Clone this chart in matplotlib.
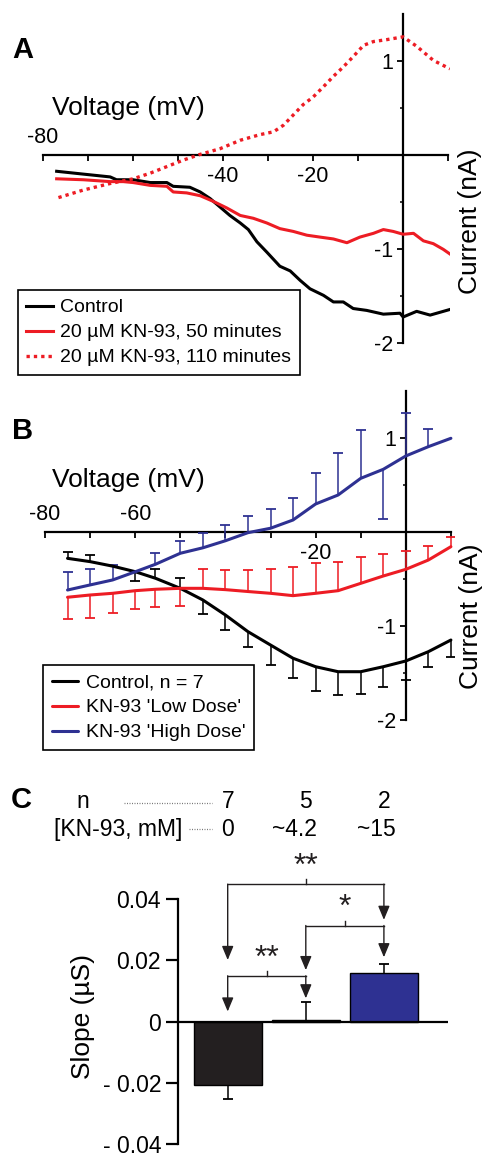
import matplotlib
matplotlib.use('Agg')
import numpy as np
from matplotlib import pyplot as plt
from matplotlib.lines import Line2D
from matplotlib.transforms import blended_transform_factory

plt.rcParams['font.family'] = ['Liberation Sans', 'DejaVu Sans']

RED = '#ED1C24'
BLUE = '#2E3192'
BLACK = '#231F20'

# ---- panel A: single cell traces (mV, nA)
ctrl_a_v = [-76.9, -71.0, -65.0, -63.6, -59.9, -56.1, -52.4, -51.0, -47.3, -45.0, -42.8, -40.6,
            -38.4, -36.1, -34.3, -32.4, -30.2, -27.3, -25.0, -22.8, -20.6, -17.6, -15.4, -13.2,
            -11.0, -8.0, -4.3, -0.6, 0.1, 3.1, 6.1, 10.5]
ctrl_a_i = [-0.17, -0.20, -0.23, -0.26, -0.26, -0.29, -0.29, -0.33, -0.34, -0.39, -0.46, -0.55,
            -0.64, -0.72, -0.79, -0.92, -1.03, -1.18, -1.23, -1.33, -1.42, -1.49, -1.56, -1.56,
            -1.63, -1.65, -1.69, -1.68, -1.72, -1.66, -1.70, -1.64]
kn50_v = [-76.9, -71.0, -65.0, -62.1, -59.9, -56.1, -52.4, -51.0, -48.0, -45.0, -42.1, -39.1,
          -36.1, -33.2, -30.2, -27.3, -24.3, -21.3, -18.4, -15.4, -12.4, -9.5, -6.5, -4.3,
          -2.1, 0.1, 2.4, 4.6, 6.8, 9.0, 10.5]
kn50_i = [-0.25, -0.26, -0.28, -0.28, -0.29, -0.32, -0.33, -0.39, -0.40, -0.43, -0.49, -0.56,
          -0.64, -0.67, -0.72, -0.78, -0.81, -0.85, -0.87, -0.89, -0.93, -0.87, -0.83, -0.79,
          -0.81, -0.84, -0.83, -0.91, -0.94, -1.00, -1.05]
kn110_v = [-76.5, -71.0, -65.0, -59.9, -56.1, -52.4, -48.7, -45.0, -40.6, -36.1, -31.7, -28.7,
           -26.5, -24.3, -22.1, -19.9, -17.6, -15.4, -13.2, -11.0, -8.7, -6.5, -3.6, 0.1,
           3.1, 6.8, 10.5]
kn110_i = [-0.45, -0.37, -0.30, -0.25, -0.19, -0.12, -0.05, 0.01, 0.07, 0.16, 0.22, 0.25,
           0.32, 0.43, 0.54, 0.62, 0.73, 0.84, 0.94, 1.05, 1.17, 1.21, 1.23, 1.26,
           1.16, 1.01, 0.92]
labels_a = ['Control', '20 µM KN-93, 50 minutes', '20 µM KN-93, 110 minutes']

# ---- panel B: group means with one-sided error bars (signed: + up, - down)
volt_b = [-75, -70, -65, -60, -55.5, -50, -45, -40, -35, -30, -25, -20, -15, -10, -5, 0, 5, 10]
ctrl_b = [-0.277, -0.312, -0.36, -0.419, -0.489, -0.596, -0.72, -0.88, -1.057, -1.199, -1.34,
          -1.43, -1.483, -1.483, -1.43, -1.369, -1.27, -1.146]
ctrl_b_err = [0.071, 0.071, 0, -0.099, 0.095, 0.113, -0.149, -0.16, -0.166, -0.211, -0.213,
              -0.255, -0.247, -0.237, -0.212, -0.201, -0.16, -0.177]
low_b = [-0.691, -0.667, -0.649, -0.621, -0.606, -0.596, -0.596, -0.61, -0.63, -0.649, -0.674,
         -0.649, -0.621, -0.543, -0.465, -0.394, -0.295, -0.153]
low_b_err = [-0.235, -0.241, -0.206, -0.198, -0.192, -0.188, 0.202, 0.209, 0.229, 0.259, 0.302,
             0.319, 0.302, 0.277, 0.234, 0.198, 0.153, 0.106]
high_b = [-0.614, -0.56, -0.507, -0.42, -0.34, -0.223, -0.165, -0.09, -0.004, 0.043, 0.131,
          0.301, 0.397, 0.574, 0.67, 0.812, 0.911, 1.0]
high_b_err = [0.195, 0.166, 0.159, 0, 0.117, 0.134, 0.161, 0.168, 0.181, 0.205, 0.231, 0.327,
              0.443, 0.514, -0.532, 0.454, 0.188, 0]
labels_b = ['Control, n = 7', "KN-93 'Low Dose'", "KN-93 'High Dose'"]

# ---- panel C: slopes
groups = ['Control', 'Low', 'High']
slopes = [-0.0207, 0.0005, 0.016]
slope_err = [-0.0046, 0.006, 0.0028]
n_cells = ['7', '5', '2']
kn_conc = ['0', '~4.2', '~15']
bar_colors = [BLACK, BLACK, BLUE]
# (left bar, right bar, bracket y, left tip, right tip, label)
sig = [(0, 2, 0.0448, 0.0201, 0.0332, '**'),
       (1, 2, 0.0313, 0.0168, 0.0210, '*'),
       (0, 1, 0.0149, 0.0033, 0.0076, '**')]

W, H = 487, 1154
fig = plt.figure(figsize=(W / 100, H / 100), dpi=100)


def fx(px):
    return px / W


def fy(py):
    return 1 - py / H


def iv_axes(rect):
    ax = fig.add_axes(rect)
    ax.set_xlim(-80, 10.6)
    ax.set_ylim(-2, 1.5)
    for s in ['top', 'right']:
        ax.spines[s].set_visible(False)
    ax.spines['left'].set_position(('data', 0))
    ax.spines['bottom'].set_position(('data', 0))
    ax.spines['bottom'].set_bounds(-80, 10)
    for s in ['left', 'bottom']:
        ax.spines[s].set_linewidth(1.6)
        ax.spines[s].set_zorder(1)
    ax.patch.set_visible(False)
    ax.set_xticks(range(-80, 11, 10))
    ax.set_yticks([-2, -1, 1])
    ax.set_yticklabels(['-2', '-1', '1'])
    ax.set_yticks([-1.5, -0.5, 0.5], minor=True)
    ax.tick_params(axis='both', which='major', direction='out', length=4, width=1.3,
                   labelsize=15.5, pad=3)
    ax.tick_params(axis='y', which='minor', direction='out', length=2.5, width=1.1)
    ax.tick_params(axis='x', pad=4)
    return ax


def top_labels(ax, vals):
    for v in vals:
        ax.annotate('%d' % v, xy=(v, 0), xytext=(0, 5), textcoords='offset points',
                    ha='center', va='bottom', fontsize=15.5)


def boxed_legend(ax, left, top):
    leg = ax.legend(loc='upper left', bbox_to_anchor=(fx(left), fy(top)),
                    bbox_transform=fig.transFigure, borderaxespad=0, fontsize=14,
                    handlelength=1.35, handletextpad=0.4, borderpad=0.45, labelspacing=0.38,
                    fancybox=False, framealpha=1, edgecolor='black')
    leg.get_frame().set_linewidth(1.2)
    return leg


# ---------------- A
ax_a = iv_axes([fx(42.7), fy(343.3), 90.6 * 4.5 / W, 329 / H])
ax_a.set_xticklabels(['' if v not in (-40, -20) else '%d' % v for v in range(-80, 11, 10)])
top_labels(ax_a, [-80])
ax_a.plot(ctrl_a_v, ctrl_a_i, color='black', lw=2.2, label=labels_a[0], zorder=3)
ax_a.plot(kn50_v, kn50_i, color=RED, lw=2.2, label=labels_a[1], zorder=3)
ax_a.plot(kn110_v, kn110_i, color=RED, lw=2.4, ls=(0, (1, 1.2)), label=labels_a[2], zorder=3)
boxed_legend(ax_a, 17.7, 290)
fig.text(fx(128.3), fy(107.5), 'Voltage (mV)', fontsize=19, ha='center', va='center')
fig.text(fx(470), fy(221), 'Current (nA)', fontsize=19, ha='center', va='center', rotation=90)
fig.text(fx(23), fy(50), 'A', fontsize=21, weight='bold', ha='center', va='center')

# ---------------- B
ax_b = iv_axes([fx(45), fy(720.3), 90.6 * 4.51 / W, 329 / H])
ax_b.set_xticklabels(['' if v != -20 else '-20' for v in range(-80, 11, 10)])
top_labels(ax_b, [-80, -60])
for mean, err, col, lab in [(ctrl_b, ctrl_b_err, 'black', labels_b[0]),
                            (low_b, low_b_err, RED, labels_b[1]),
                            (high_b, high_b_err, BLUE, labels_b[2])]:
    m = np.array(mean)
    e = np.array(err)
    x = np.array(volt_b)
    ax_b.plot(x, m, color=col, lw=2.2, label=lab, zorder=3, solid_capstyle='round')
    k = e != 0
    ax_b.vlines(x[k], m[k], m[k] + e[k], color=col, lw=1.1, zorder=2)
    ax_b.plot(x[k], m[k] + e[k], ls='none', marker='_', ms=6.5, mew=1.3, color=col, zorder=2)
boxed_legend(ax_b, 43, 665)
fig.text(fx(128.3), fy(480.5), 'Voltage (mV)', fontsize=19, ha='center', va='center')
fig.text(fx(471), fy(616.7), 'Current (nA)', fontsize=19, ha='center', va='center', rotation=90)
fig.text(fx(23), fy(431), 'B', fontsize=21, weight='bold', ha='center', va='center')

# ---------------- C
ax_c = fig.add_axes([fx(178.3), fy(1150.4), 269.7 / W, 288.2 / H])
pos = np.arange(len(groups))
ax_c.set_xlim(-0.6325, 2.8207)
ax_c.set_ylim(-0.042, 0.052)
for s in ['top', 'right', 'bottom']:
    ax_c.spines[s].set_visible(False)
ax_c.spines['left'].set_bounds(-0.04, 0.04)
ax_c.spines['left'].set_linewidth(1.6)
ax_c.set_xticks([])
ax_c.set_yticks([0.04, 0.02, 0, -0.02, -0.04])
ax_c.set_yticklabels(['0.04', '0.02', '0', '- 0.02', '- 0.04'])
ax_c.tick_params(axis='y', direction='out', length=8.4, width=1.6, labelsize=16.5, pad=4)
ax_c.patch.set_visible(False)

s = np.array(slopes)
e = np.array(slope_err)
ax_c.bar(pos, s, width=0.867, color=bar_colors, edgecolor='black', lw=1.0, zorder=2)
ax_c.vlines(pos, s, s + e, color='black', lw=1.1, zorder=2)
ax_c.plot(pos, s + e, ls='none', marker='_', ms=7, mew=1.3, color='black', zorder=2)
ax_c.axhline(0, color='black', lw=1.6, zorder=3)

for i, j, yb, ti, tj, lab in sig:
    ax_c.plot([pos[i], pos[j]], [yb, yb], color=BLACK, lw=1.0, clip_on=False)
    mid = (pos[i] + pos[j]) / 2
    ax_c.plot([mid, mid], [yb, yb + 0.0016], color=BLACK, lw=1.0, clip_on=False)
    for p, t in [(pos[i], ti), (pos[j], tj)]:
        ax_c.annotate('', xy=(p, t), xytext=(p, yb + 0.00005),
                      arrowprops=dict(arrowstyle='-|>,head_length=0.6,head_width=0.25',
                                      color=BLACK, lw=1.0, mutation_scale=14,
                                      shrinkA=0, shrinkB=0), annotation_clip=False)
    ax_c.text(mid, yb + 0.0008, lab, ha='center', va='bottom', fontsize=23, color=BLACK)

fig.text(fx(178.3 - 95), fy(1016.7), 'Slope (µS)', fontsize=19, ha='center', va='center',
         rotation=90)
fig.text(fx(21), fy(799.7), 'C', fontsize=21, weight='bold', ha='center', va='center')

tr = blended_transform_factory(ax_c.transData, fig.transFigure)
row2_shift = [0, -0.15, -0.09]
for k in range(len(groups)):
    ax_c.text(pos[k], fy(802), n_cells[k], transform=tr, ha='center', va='center', fontsize=16.5)
    ax_c.text(pos[k] + row2_shift[k], fy(829.7), kn_conc[k], transform=tr, ha='center',
              va='center', fontsize=16.5)
fig.text(fx(83.3), fy(802), 'n', fontsize=16.5, ha='center', va='center')
fig.text(fx(117.7), fy(829.7), '[KN-93, mM]', fontsize=16.5, ha='center', va='center')
fig.add_artist(Line2D([fx(124), fx(212.3)], [fy(802.7), fy(802.7)], color='#777777', lw=0.9,
                      ls=(0, (0.8, 1.2))))
fig.add_artist(Line2D([fx(189.3), fx(212.3)], [fy(829.3), fy(829.3)], color='#777777', lw=0.9,
                      ls=(0, (0.8, 1.2))))

fig.savefig('out.png', dpi=100)
